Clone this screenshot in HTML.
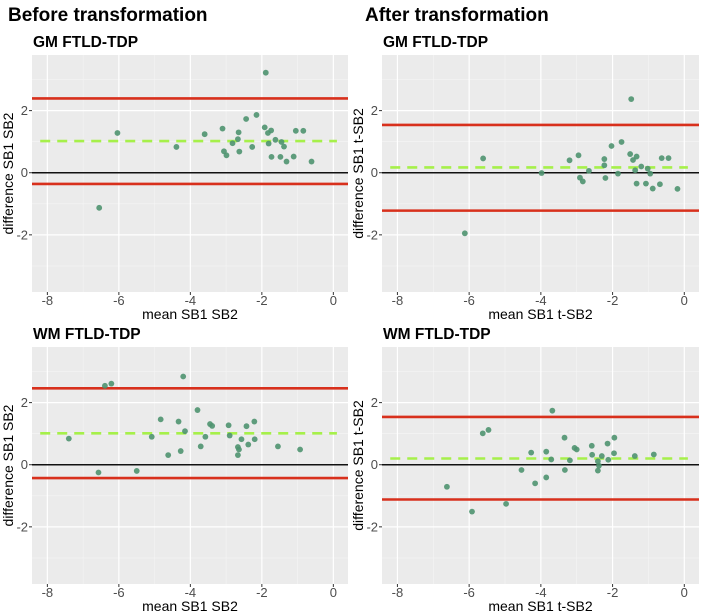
<!DOCTYPE html>
<html><head><meta charset="utf-8"><style>
body{margin:0;background:#fff;}
svg{display:block;font-family:"Liberation Sans",Arial,sans-serif;}
</style></head><body>
<svg id="chart" width="702" height="616" viewBox="0 0 702 616" xmlns="http://www.w3.org/2000/svg">
<text x="8" y="21" font-size="19" font-weight="bold">Before transformation</text>
<text x="365" y="21" font-size="19" font-weight="bold">After transformation</text>
</svg>
<script>
// Panel 1: GM before
const gmBeforeX=[-1.89,-6.04,-6.55,-4.39,-3.6,-3.1,-3.06,-2.99,-2.82,-2.67,-2.65,-2.63,-2.44,-2.27,-2.15,-1.92,-1.83,-1.81,-1.74,-1.73,-1.62,-1.48,-1.45,-1.38,-1.31,-1.11,-1.05,-0.84,-0.61];
const gmBeforeY=[3.22,1.28,-1.13,0.83,1.24,1.42,0.69,0.56,0.95,1.08,1.3,0.68,1.73,0.83,1.86,1.46,1.28,0.94,1.36,0.51,1.06,0.51,0.99,0.84,0.36,0.52,1.35,1.35,0.36];
const gmBeforeLines=[2.39,1.02,-0.36];
// Panel 2: GM after
const gmAfterX=[-1.48,-5.61,-6.12,-3.98,-3.2,-2.95,-2.91,-2.83,-2.66,-2.23,-2.23,-2.2,-2.03,-1.85,-1.75,-1.51,-1.43,-1.37,-1.33,-1.33,-1.2,-1.07,-1.02,-0.95,-0.88,-0.68,-0.63,-0.44,-0.19];
const gmAfterY=[2.37,0.46,-1.95,-0.01,0.4,0.56,-0.16,-0.28,0.06,0.44,0.24,-0.17,0.86,-0.03,0.99,0.6,0.41,0.08,0.52,-0.35,0.2,-0.35,0.13,-0.03,-0.51,-0.37,0.47,0.47,-0.52];
const gmAfterLines=[1.54,0.17,-1.22];
// Panel 3: WM before
const wmBeforeX=[-4.2,-6.39,-6.21,-7.4,-6.57,-5.5,-5.08,-4.83,-4.62,-4.33,-4.27,-4.15,-3.8,-3.71,-3.58,-3.45,-3.39,-2.93,-2.9,-2.67,-2.67,-2.64,-2.57,-2.43,-2.38,-2.21,-2.2,-1.55,-0.93];
const wmBeforeY=[2.84,2.54,2.61,0.84,-0.25,-0.2,0.9,1.46,0.31,1.39,0.44,1.08,1.76,0.59,0.9,1.31,1.25,1.27,0.94,0.57,0.31,0.49,0.82,1.24,0.65,1.39,0.82,0.59,0.49];
const wmBeforeLines=[2.46,1.01,-0.43];
// Panel 4: WM after
const wmAfterX=[-3.68,-6.62,-5.92,-5.62,-5.46,-4.97,-4.54,-4.27,-4.16,-3.85,-3.85,-3.71,-3.34,-3.33,-3.19,-3.06,-3.0,-2.58,-2.57,-2.41,-2.41,-2.38,-2.3,-2.14,-2.12,-1.95,-1.96,-1.38,-0.85];
const wmAfterY=[1.74,-0.71,-1.51,1.01,1.12,-1.26,-0.17,0.39,-0.6,0.42,-0.41,0.17,0.87,-0.17,0.14,0.54,0.49,0.61,0.32,0.11,-0.19,-0.03,0.28,0.68,0.16,0.87,0.37,0.28,0.33];
const wmAfterLines=[1.54,0.2,-1.12];
const xTicks=[-8,-6,-4,-2,0];
const yTicks=[-2,0,2];

const NS="http://www.w3.org/2000/svg";
const svg=document.getElementById('chart');
function mk(tag,attrs,parent){const e=document.createElementNS(NS,tag);for(const k in attrs)e.setAttribute(k,attrs[k]);(parent||svg).appendChild(e);return e;}

function panel(key,title,xl,xr,yt,yb,xs,ys,lines,ylab,xlab){
  const g=mk('g',{});
  
  
  const xMin=-8.43,xMax=0.41,yMin=-3.84,yMax=3.79;
  const X=v=>xl+(v-xMin)/(xMax-xMin)*(xr-xl);
  const Y=v=>yb-(v-yMin)/(yMax-yMin)*(yb-yt);
  const t=mk('text',{x:xl+1,y:yt-8,'font-size':15.5,'font-weight':'bold'},g);t.textContent=title;
  
  
  const bg=mk('rect',{x:xl,y:yt,width:xr-xl,height:yb-yt,fill:'#ebebeb'},g);
  
  
  for(let v=-9;v<=1;v+=2){if(X(v)>xl&&X(v)<xr)mk('line',{x1:X(v),x2:X(v),y1:yt,y2:yb,stroke:'#f5f5f5','stroke-width':0.6},g);}
  for(let v=-3;v<=3;v+=2)mk('line',{x1:xl,x2:xr,y1:Y(v),y2:Y(v),stroke:'#f5f5f5','stroke-width':0.6},g);
  xTicks.forEach(v=>{mk('line',{x1:X(v),x2:X(v),y1:yt,y2:yb,stroke:'#fff','stroke-width':1.2},g);
    mk('line',{x1:X(v),x2:X(v),y1:yb,y2:yb+3,stroke:'#333','stroke-width':1},g);
    const tl=mk('text',{x:X(v),y:yb+13,'font-size':13,fill:'#4d4d4d','text-anchor':'middle'},g);tl.textContent=v;
    
    });
  yTicks.forEach(v=>{mk('line',{x1:xl,x2:xr,y1:Y(v),y2:Y(v),stroke:'#fff','stroke-width':1.2},g);
    mk('line',{x1:xl-3,x2:xl,y1:Y(v),y2:Y(v),stroke:'#333','stroke-width':1},g);
    const tl=mk('text',{x:xl-4,y:Y(v)+4.5,'font-size':13,fill:'#4d4d4d','text-anchor':'end'},g);tl.textContent=v;
    
    });
  const z=mk('line',{x1:xl,x2:xr,y1:Y(0),y2:Y(0),stroke:'#111','stroke-width':1.5},g);
  
  
  const up=mk('line',{x1:xl,x2:xr,y1:Y(lines[0]),y2:Y(lines[0]),stroke:'#d8301c','stroke-width':2.6},g);
  
  
  const lo=mk('line',{x1:xl,x2:xr,y1:Y(lines[2]),y2:Y(lines[2]),stroke:'#d8301c','stroke-width':2.6},g);
  
  
  const mn=mk('line',{x1:X(-8.2),x2:X(0.1),y1:Y(lines[1]),y2:Y(lines[1]),stroke:'#a6f04a','stroke-width':2.6,'stroke-dasharray':'10,7'},g);
  
  
  xs.forEach((v,i)=>{const c=mk('circle',{cx:X(v),cy:Y(ys[i]),r:2.9,fill:'#4f9470','fill-opacity':0.9},g);
    
    });
  const yt2=mk('text',{x:0,y:0,'font-size':14,'text-anchor':'middle',transform:`translate(${xl-19},${(yt+yb)/2}) rotate(-90)`},g);yt2.textContent=ylab;
  
  
  const xt=mk('text',{x:(xl+xr)/2,y:yb+27,'font-size':14,'text-anchor':'middle'},g);xt.textContent=xlab;
  
  
}
panel('gm-before','GM FTLD-TDP',32,348,55,292,gmBeforeX,gmBeforeY,gmBeforeLines,'difference SB1 SB2','mean SB1 SB2');
panel('gm-after','GM FTLD-TDP',382,699,55,292,gmAfterX,gmAfterY,gmAfterLines,'difference SB1 t-SB2','mean SB1 t-SB2');
panel('wm-before','WM FTLD-TDP',32,348,347,584,wmBeforeX,wmBeforeY,wmBeforeLines,'difference SB1 SB2','mean SB1 SB2');
panel('wm-after','WM FTLD-TDP',382,699,347,584,wmAfterX,wmAfterY,wmAfterLines,'difference SB1 t-SB2','mean SB1 t-SB2');
</script>
</body></html>
